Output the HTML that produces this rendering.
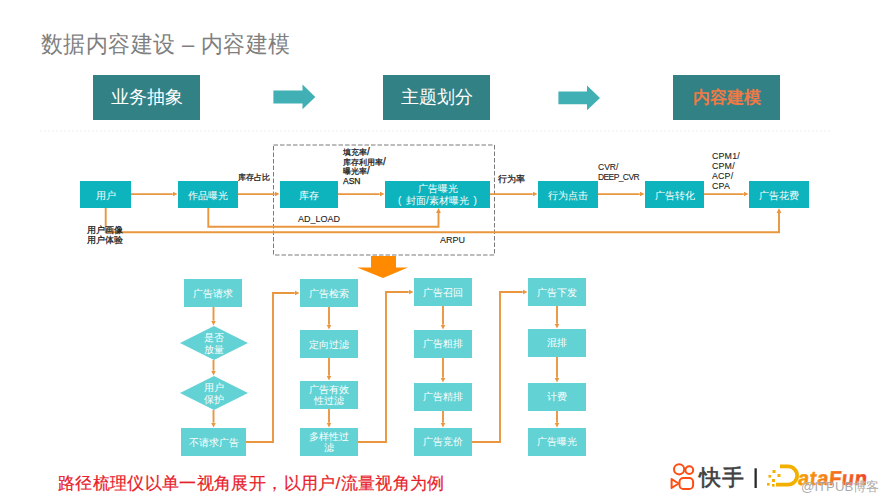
<!DOCTYPE html>
<html><head><meta charset="utf-8">
<style>
html,body{margin:0;padding:0;background:#fff;}
body{text-spacing-trim:space-all;width:890px;height:501px;position:relative;overflow:hidden;font-family:"Liberation Sans",sans-serif;}
.a{position:absolute;white-space:nowrap;}
.bx{position:absolute;display:flex;align-items:center;justify-content:center;color:#fff;text-align:center;line-height:1.1;}
.top{background:#328185;font-size:18px;}
.fl{background:#0eb4bd;font-size:10px;padding-top:2px;box-sizing:border-box;}
.lo{background:#62d2d4;font-size:10px;}
.sl{font-size:10px;line-height:0;}
.lb{position:absolute;white-space:nowrap;font-size:8px;color:#1a1a1a;line-height:9.7px;-webkit-text-stroke:0.25px #1a1a1a;}
svg{position:absolute;left:0;top:0;}
</style></head><body>
<svg width="890" height="501" viewBox="0 0 890 501">
  <defs>
    <marker id="ah" markerWidth="6" markerHeight="6" refX="0" refY="3" orient="auto" markerUnits="userSpaceOnUse">
      <path d="M0,0.6 L4.8,3 L0,5.4 Z" fill="#e9963f"/>
    </marker>
  </defs>
  <!-- separator -->
  <line x1="40" y1="131" x2="831" y2="131" stroke="#eeeeee" stroke-width="1" stroke-dasharray="2,2"/>
  <!-- top arrows -->
  <path d="M273.4,90.5 H302.5 V84.5 L315.3,96.9 L302.5,109.3 V103.4 H273.4 Z" fill="#40b0b5"/>
  <path d="M558.4,91.5 H587 V85.5 L600,97.9 L587,110.3 V104.3 H558.4 Z" fill="#40b0b5"/>
  <!-- dashed box -->
  <rect x="273.5" y="145" width="221" height="110" fill="none" stroke="#7a7a7a" stroke-width="1" stroke-dasharray="4.5,2"/>
  <!-- big arrow -->
  <path d="M371,256 H396 V267.5 H408 L383,278 L357,267.5 H371 Z" fill="#ff8a00"/>
  <g stroke="#e9963f" stroke-width="1.9" fill="none">
    <!-- flow row arrows -->
    <line x1="131" y1="194.1" x2="172.7" y2="194.1" marker-end="url(#ah)"/>
    <line x1="238" y1="194.1" x2="274.7" y2="194.1" marker-end="url(#ah)"/>
    <line x1="338" y1="194.1" x2="379.7" y2="194.1" marker-end="url(#ah)"/>
    <line x1="490" y1="194.1" x2="532.7" y2="194.1" marker-end="url(#ah)"/>
    <line x1="598" y1="194.1" x2="639.7" y2="194.1" marker-end="url(#ah)"/>
    <line x1="704" y1="194.1" x2="743.7" y2="194.1" marker-end="url(#ah)"/>
    <!-- connectors -->
    <path d="M105.7,207.5 V232.3 H779 V212.9" marker-end="url(#ah)"/>
    <path d="M208.3,207.5 V226.8 H438.5 V212.9" marker-end="url(#ah)"/>
    <!-- lower columns -->
    <line x1="213.5" y1="307" x2="213.5" y2="320.7" marker-end="url(#ah)"/>
    <line x1="213.5" y1="360" x2="213.5" y2="370.7" marker-end="url(#ah)"/>
    <line x1="213.5" y1="410" x2="213.5" y2="422.7" marker-end="url(#ah)"/>
    <line x1="329" y1="307" x2="329" y2="324.7" marker-end="url(#ah)"/>
    <line x1="329" y1="358" x2="329" y2="375.7" marker-end="url(#ah)"/>
    <line x1="329" y1="408" x2="329" y2="422.7" marker-end="url(#ah)"/>
    <line x1="443" y1="306" x2="443" y2="324.7" marker-end="url(#ah)"/>
    <line x1="443" y1="357" x2="443" y2="377.7" marker-end="url(#ah)"/>
    <line x1="443" y1="410" x2="443" y2="422.7" marker-end="url(#ah)"/>
    <line x1="557" y1="306" x2="557" y2="323.7" marker-end="url(#ah)"/>
    <line x1="557" y1="356" x2="557" y2="377.7" marker-end="url(#ah)"/>
    <line x1="557" y1="410" x2="557" y2="422.7" marker-end="url(#ah)"/>
    <path d="M246,442 H273 V293 H294.7" marker-end="url(#ah)"/>
    <path d="M358,442 H386 V292 H408.7" marker-end="url(#ah)"/>
    <path d="M472,442 H500 V292 H522.7" marker-end="url(#ah)"/>
  </g>
  <!-- diamonds -->
  <path d="M180,343 L214,326 L248,343 L214,360 Z" fill="#62d2d4"/>
  <path d="M180,393 L214,376 L248,393 L214,410 Z" fill="#62d2d4"/>
</svg>

<div class="a" style="left:41px;top:28.5px;font-size:22px;letter-spacing:0.4px;color:#7f7f7f;transform:scaleY(1.05);transform-origin:0 4px;">数据内容建设 – 内容建模</div>

<div class="bx top" style="left:93px;top:75px;width:107px;height:45px;">业务抽象</div>
<div class="bx top" style="left:383px;top:75px;width:107px;height:45px;">主题划分</div>
<div class="bx top" style="left:673px;top:75px;width:107px;height:45px;color:#f07a45;font-weight:bold;font-size:17px;padding-top:2px;box-sizing:border-box;">内容建模</div>

<div class="bx fl" style="left:80px;top:180.6px;width:51px;height:27px;">用户</div>
<div class="bx fl" style="left:178px;top:180.6px;width:60px;height:27px;">作品曝光</div>
<div class="bx fl" style="left:280px;top:180.6px;width:58px;height:27px;">库存</div>
<div class="bx fl" style="left:385px;top:180.6px;width:105px;height:27px;"><span style="line-height:12px">广告曝光<br><span style="display:inline-block;width:8px;text-align:left">(</span>封面/素材曝光<span style="display:inline-block;width:8px;text-align:right">)</span></span></div>
<div class="bx fl" style="left:538px;top:180.6px;width:60px;height:27px;">行为点击</div>
<div class="bx fl" style="left:645px;top:180.6px;width:59px;height:27px;">广告转化</div>
<div class="bx fl" style="left:749px;top:180.6px;width:60px;height:27px;">广告花费</div>

<div class="lb" style="left:238px;top:172.5px;">库存占比</div>
<div class="lb" style="left:343px;top:148px;">填充率<span class="sl">/</span><br>库存利用率<span class="sl">/</span><br>曝光率<span class="sl">/</span><br><span style="font-size:8.5px">ASN</span></div>
<div class="lb" style="left:498px;top:175px;font-size:8.5px;">行为率</div>
<div class="lb" style="left:598px;top:161.8px;font-size:8.5px;-webkit-text-stroke:0.1px #222;color:#222;line-height:10px;">CVR/<br><span style="letter-spacing:-0.6px">DEEP_CVR</span></div>
<div class="lb" style="left:712px;top:150.5px;font-size:8.8px;line-height:10.1px;-webkit-text-stroke:0.1px #222;color:#222;letter-spacing:0.2px;">CPM1/<br>CPM/<br>ACP/<br>CPA</div>
<div class="lb" style="left:298px;top:214.5px;font-size:9px;-webkit-text-stroke:0.1px #222;color:#222;">AD_LOAD</div>
<div class="lb" style="left:440px;top:236px;font-size:9px;-webkit-text-stroke:0.1px #222;color:#222;">ARPU</div>
<div class="lb" style="left:86.5px;top:224.5px;font-size:9px;line-height:10.7px;">用户画像<br>用户体验</div>

<div class="bx lo" style="left:184px;top:279px;width:58px;height:28px;">广告请求</div>
<div class="bx" style="left:184px;top:330px;width:60px;height:28px;font-size:10px;line-height:11.8px;">是否<br>放量</div>
<div class="bx" style="left:184px;top:380px;width:60px;height:28px;font-size:10px;line-height:11.8px;">用户<br>保护</div>
<div class="bx lo" style="left:181px;top:428px;width:65px;height:28px;">不请求广告</div>

<div class="bx lo" style="left:300px;top:279px;width:58px;height:28px;">广告检索</div>
<div class="bx lo" style="left:300px;top:330px;width:58px;height:28px;">定向过滤</div>
<div class="bx lo" style="left:300px;top:381px;width:58px;height:27.7px;">广告有效<br>性过滤</div>
<div class="bx lo" style="left:300px;top:428px;width:58px;height:27.7px;">多样性过<br>滤</div>

<div class="bx lo" style="left:414px;top:278px;width:58px;height:28px;">广告召回</div>
<div class="bx lo" style="left:414px;top:330px;width:58px;height:27.7px;">广告粗排</div>
<div class="bx lo" style="left:414px;top:383px;width:58px;height:27.7px;">广告精排</div>
<div class="bx lo" style="left:414px;top:428px;width:58px;height:27.7px;">广告竞价</div>

<div class="bx lo" style="left:528px;top:278px;width:58px;height:28px;">广告下发</div>
<div class="bx lo" style="left:528px;top:329px;width:58px;height:27.7px;">混排</div>
<div class="bx lo" style="left:528px;top:383px;width:58px;height:27.7px;">计费</div>
<div class="bx lo" style="left:528px;top:428px;width:58px;height:27.7px;">广告曝光</div>

<div class="a" style="left:58px;top:471.5px;font-size:17px;color:#e8202a;letter-spacing:0.35px;-webkit-text-stroke:0.2px #e8202a;">路径梳理仪以单一视角展开，以用户/流量视角为例</div>


<svg width="890" height="501" viewBox="0 0 890 501" style="position:absolute;left:0;top:0;">
  <defs>
    <linearGradient id="dg" x1="0" y1="0" x2="1" y2="0">
      <stop offset="0" stop-color="#f6a000"/>
      <stop offset="0.45" stop-color="#f47a18"/>
      <stop offset="1" stop-color="#ee4422"/>
    </linearGradient>
  </defs>
  <g fill="none" stroke="#fd4d12" stroke-width="2" stroke-linejoin="round">
    <circle cx="679.1" cy="469.3" r="5.1"/>
    <circle cx="689.3" cy="470.1" r="3.9"/>
    <rect x="679.5" y="478" width="13.6" height="11" rx="3.8"/>
    <path d="M671.6,479 L678.5,483.5 L671.6,488 Z"/>
  </g>
  <rect x="754.5" y="468.3" width="2.3" height="19.7" fill="#2a2a2a"/>
  <g fill="#f4b000">
    <path d="M780,464.5 H788 A11,11 0 0 1 788,486.5 H776 V482.8 H788 A7.2,7.2 0 0 0 788,468.3 H780 Z"/>
    <rect x="772.5" y="470" width="3" height="3"/>
    <rect x="777.5" y="474" width="3" height="3"/>
    <rect x="768.5" y="475" width="2.6" height="2.6"/>
    <rect x="772" y="479" width="3" height="3"/>
    <rect x="767" y="483" width="2.6" height="2.6"/>
    <rect x="772" y="484" width="2.6" height="2.6"/>
  </g>
  <text x="797.5" y="484.8" font-family="Liberation Sans" font-weight="bold" font-size="20" fill="url(#dg)" stroke="url(#dg)" stroke-width="0.5" letter-spacing="0.7" transform="translate(797,484.5) skewX(-6) translate(-797,-484.5)">ataFun</text>
  <text x="801" y="491" font-family="Liberation Sans" font-size="13.2" fill="#9a9a9a" fill-opacity="0.85" stroke="#fff" stroke-width="0.6" stroke-opacity="0.6" paint-order="stroke">@ITPUB博客</text>
</svg>
<div class="a" style="left:699px;top:463px;font-size:22px;color:#404040;letter-spacing:1px;-webkit-text-stroke:0.6px #404040;">快手</div>

</body></html>
